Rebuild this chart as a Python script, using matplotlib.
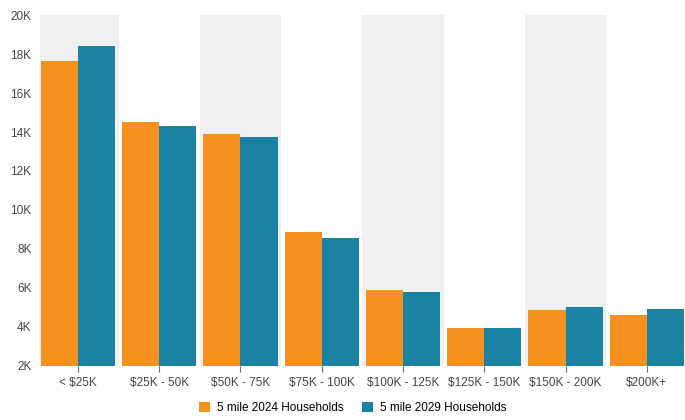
import numpy as np
import matplotlib.pyplot as plt
from matplotlib.ticker import FuncFormatter

plt.rcParams['font.family'] = ['Liberation Sans', 'DejaVu Sans']

# income brackets and household counts (thousands)
categories = ["< $25K", "$25K - 50K", "$50K - 75K", "$75K - 100K",
              "$100K - 125K", "$125K - 150K", "$150K - 200K", "$200K+"]
hh_2024 = [17.65, 14.53, 13.92, 8.85, 5.89, 3.94, 4.88, 4.62]
hh_2029 = [18.42, 14.33, 13.76, 8.55, 5.79, 3.94, 5.00, 4.90]
series_labels = ["5 mile 2024 Households", "5 mile 2029 Households"]

orange = "#F5911E"
teal = "#1A82A3"
tick_color = "#444444"

fig = plt.figure(figsize=(6.85, 4.2), dpi=100)
ax = fig.add_axes([0.058, 0.129, 0.942, 0.835])

x = np.arange(len(categories))
w = 0.456

# alternating grey bands behind every other category
for i in x[::2]:
    ax.axvspan(i - 0.5, i + 0.5, color="#f0f0f0", zorder=0, lw=0)

ax.bar(x - w / 2, hh_2024, width=w, bottom=0, color=orange, zorder=2,
       label=series_labels[0])
ax.bar(x + w / 2, hh_2029, width=w, bottom=0, color=teal, zorder=2,
       label=series_labels[1])

ax.set_xlim(-0.47, 7.47)
ax.set_ylim(2, 20)
ax.set_yticks(range(2, 21, 2))
ax.yaxis.set_major_formatter(FuncFormatter(lambda v, p: f"{int(v)}K"))
ax.set_xticks(x)
ax.set_xticklabels(categories)

for s in ax.spines.values():
    s.set_visible(False)
ax.tick_params(axis="y", length=0, labelsize=8.5, colors=tick_color, pad=6)
ax.tick_params(axis="x", length=4, width=0.8, color="#666666",
               labelsize=8.5, labelcolor=tick_color, pad=4)

fig.legend(loc="lower center", bbox_to_anchor=(0.515, -0.012), ncol=2,
           frameon=False, fontsize=8.5, handlelength=0.9, handleheight=0.9,
           handletextpad=0.6, columnspacing=1.6)

fig.savefig("out.png", dpi=100)
